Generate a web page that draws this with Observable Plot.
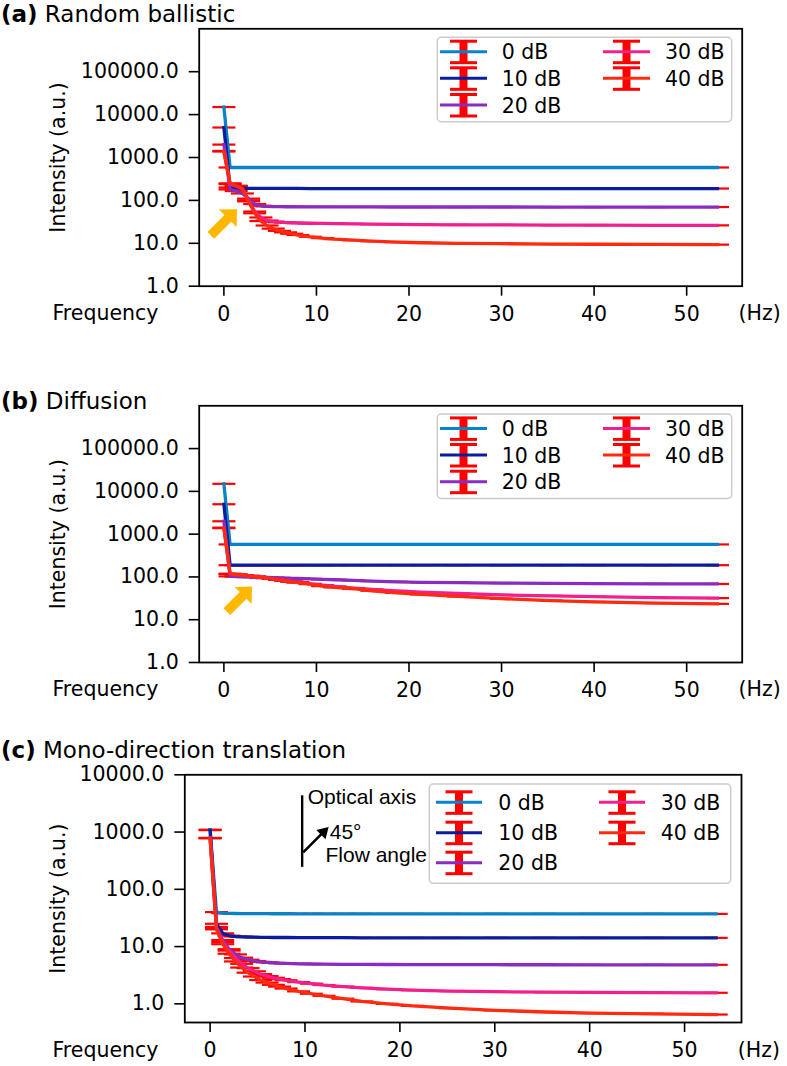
<!DOCTYPE html>
<html><head><meta charset="utf-8">
<script src="https://cdn.jsdelivr.net/npm/d3@7"></script>
<script src="https://cdn.jsdelivr.net/npm/@observablehq/plot@0.6"></script>
<style>
body{margin:0;background:#fff;}
#fig{position:relative;width:787px;height:1066px;overflow:hidden;font-family:"DejaVu Sans",sans-serif;background:#fff;}
.panel{position:absolute;left:0;}
.title{position:absolute;left:1px;font-size:23px;line-height:1;white-space:nowrap;color:#000;font-family:"DejaVu Sans",sans-serif;}
.title b{font-weight:bold}
</style></head><body><div id="fig"></div>
<script>
// ---------- data ----------
const frequencies = [0, 0.67, 1.33, 2, 2.67, 3.33, 4, 4.67, 5.33, 6,
  6.67, 7.33, 8, 9.33, 10.67, 12, 14, 16, 18.67, 21.33,
  25.33, 30, 35.33, 40, 46.67, 53.33];
const seriesNames = ["0 dB", "10 dB", "20 dB", "30 dB", "40 dB"];
const seriesColors = ["#0a82c8", "#0a1e9c", "#8a2cbf", "#f2208c", "#ff2a10"];
const capColor = "#ff0000";
const xTicks = [0, 10, 20, 30, 40, 50];
const yTicksAB = [1, 10, 100, 1000, 10000, 100000];
const yTicksC = [1, 10, 100, 1000, 10000];
const panelTitles = [["(a)", "Random ballistic"], ["(b)", "Diffusion"], ["(c)", "Mono-direction translation"]];

// (a) Random ballistic
const a0 = [15000, 585, 585, 585, 585, 585, 585, 585, 585, 585,
  585, 585, 585, 585, 585, 585, 585, 585, 585, 585,
  585, 585, 585, 585, 585, 585];
const a10 = [5000, 200, 194, 192, 191, 190, 190, 190, 190, 190,
  190, 190, 190, 189, 189, 189, 189, 189, 189, 189,
  189, 189, 189, 189, 189, 189];
const a20 = [2000, 180, 165, 145, 110, 82, 75, 72.5, 71.8, 71.4,
  71.2, 71, 70.9, 70.7, 70.6, 70.5, 70.4, 70.3, 70.2, 70.2,
  70.1, 70.1, 70, 70, 70, 70];
const a30 = [1420, 240, 215, 185, 100, 55, 40, 34, 32, 31,
  30.5, 30, 29.7, 29.3, 29, 28.7, 28.3, 28, 27.6, 27.3,
  27, 26.8, 26.6, 26.4, 26.3, 26.2];
const a40 = [1380, 250, 220, 190, 95, 50, 33, 26, 22, 19.5,
  18, 16.7, 15.6, 14.2, 13.2, 12.5, 11.8, 11.2, 10.7, 10.3,
  10, 9.8, 9.6, 9.5, 9.4, 9.3];

// (b) Diffusion
const b0 = [15000, 575, 575, 575, 575, 575, 575, 575, 575, 575,
  575, 575, 575, 575, 575, 575, 575, 575, 575, 575,
  575, 575, 575, 575, 575, 575];
const b10 = [5000, 188, 188, 188, 188, 188, 188, 188, 188, 188,
  188, 188, 188, 188, 188, 188, 188, 188, 188, 188,
  188, 188, 188, 188, 188, 188];
const b20 = [2000, 103, 102, 101, 100, 99, 98, 97, 96, 95,
  94, 93, 92, 90, 88, 86, 83, 80, 77, 75,
  73.5, 72, 71, 70, 69, 68.5];
const b30 = [1420, 118, 114, 110, 106, 102, 98, 94, 90, 86,
  82, 78, 75, 69, 64, 60, 55, 51, 47, 44,
  41, 38, 36, 34.5, 33, 32];
const b40 = [1380, 118, 114, 110, 106, 102, 98, 94, 90, 86,
  82, 78, 74, 68, 61, 57, 53, 47.5, 42.5, 39,
  35, 31, 28, 26, 24.5, 23.5];

// (c) Mono-direction translation
const c0 = [1100, 40, 38.5, 38, 37.8, 37.7, 37.6, 37.5, 37.5, 37.5,
  37.4, 37.4, 37.4, 37.3, 37.3, 37.3, 37.3, 37.3, 37.2, 37.2,
  37.2, 37.2, 37.2, 37.2, 37.2, 37.2];
const c10 = [1080, 25, 17, 15.5, 15, 14.8, 14.7, 14.6, 14.5, 14.5,
  14.4, 14.4, 14.4, 14.3, 14.3, 14.3, 14.3, 14.2, 14.2, 14.2,
  14.2, 14.2, 14.2, 14.2, 14.2, 14.2];
const c20 = [790, 22, 13, 9, 7.3, 6.4, 5.9, 5.6, 5.4, 5.3,
  5.2, 5.12, 5.07, 5, 4.96, 4.93, 4.9, 4.88, 4.86, 4.85,
  4.83, 4.82, 4.81, 4.8, 4.8, 4.8];
const c30 = [785, 21, 12, 8.5, 6.3, 5, 4.2, 3.7, 3.3, 3.05,
  2.85, 2.7, 2.58, 2.4, 2.25, 2.13, 2, 1.9, 1.8, 1.73,
  1.67, 1.63, 1.6, 1.58, 1.57, 1.56];
const c40 = [780, 20, 11, 7.5, 5.5, 4.3, 3.5, 3, 2.6, 2.35,
  2.15, 2, 1.85, 1.65, 1.5, 1.38, 1.23, 1.1, 1, 0.92,
  0.84, 0.77, 0.72, 0.69, 0.67, 0.65];

// annotations (data units)
const orangeArrowA = [{f: -1.41, v: 15.3}];
const orangeArrowB = [{f: 0.32, v: 15.4}];
const flowAxisLine = [{f: 9.7, v1: 4300, v2: 242}];
const flowArrow = [{f: 9.81, v: 442}];
const flowLabels = [
  {f: 10.29, v: 4035, t: "Optical axis"},
  {f: 12.61, v: 988, t: "45°"},
  {f: 12.16, v: 387, t: "Flow angle"}
];

// ---------- helpers ----------
function rowsOf(series) {
  const rows = [];
  series.forEach((vals, i) => vals.forEach((v, j) => rows.push({f: frequencies[j], v, s: seriesNames[i]})));
  return rows;
}
const capSymbol = {draw(ctx) { ctx.moveTo(-11.5, 0); ctx.lineTo(11.5, 0); }};
function rotatedPolygonSymbol(pts, deg) {
  const a = deg * Math.PI / 180, c = Math.cos(a), s = Math.sin(a);
  return {draw(ctx) {
    pts.forEach(([x, y], k) => {
      const X = x * c - y * s, Y = x * s + y * c;
      k ? ctx.lineTo(X, Y) : ctx.moveTo(X, Y);
    });
    ctx.closePath();
  }};
}
// arrow pointing along +x (tail at origin), rotated -45deg => up-right
function blockArrow(len, hw, hl, hh) {
  return rotatedPolygonSymbol([[0, -hw], [len - hl, -hw], [len - hl, -hh], [len, 0], [len - hl, hh], [len - hl, hw], [0, hw]], -45);
}

function makePanel(cfg) {
  const rows = rowsOf(cfg.series);
  const fs = 20.5;
  const marks = [
    Plot.dot(rows, {x: "f", y: "v", symbol: capSymbol, stroke: capColor, strokeWidth: 2.2, fill: "none", r: 5}),
    Plot.line(rows, {x: "f", y: "v", z: "s", stroke: "s", strokeWidth: 3.3, strokeLinejoin: "round", strokeLinecap: "square"}),
    Plot.axisX({ticks: xTicks, tickFormat: d => String(d), tickSize: 10, tickPadding: 10, strokeWidth: 1.6, fontSize: fs, label: null}),
    Plot.axisY({ticks: cfg.yticks, tickFormat: ".1f", tickSize: 10, tickPadding: 10.5, strokeWidth: 1.6, fontSize: fs, label: null}),
    Plot.frame({stroke: "black", strokeWidth: 1.8}),
    Plot.text(["Frequency"], {frameAnchor: "bottom-left", text: d => d, textAnchor: "start", lineAnchor: "middle", dx: 52 - cfg.ml, dy: cfg.xlabDy, fontSize: fs, fill: "black"}),
    Plot.text(["(Hz)"], {frameAnchor: "bottom-right", text: d => d, textAnchor: "start", lineAnchor: "middle", dx: -3.7, dy: cfg.xlabDy, fontSize: fs, fill: "black"}),
    Plot.text(["Intensity (a.u.)"], {frameAnchor: "left", text: d => d, rotate: -90, textAnchor: "middle", lineAnchor: "middle", dx: cfg.ylabX - cfg.ml, fontSize: fs, fill: "black"}),
    ...cfg.extra
  ];
  return Plot.plot({
    width: 787, height: cfg.height,
    marginLeft: cfg.ml, marginRight: cfg.mr, marginTop: cfg.mt, marginBottom: cfg.mb,
    style: {fontFamily: "DejaVu Sans", fontSize: fs + "px", background: "transparent", overflow: "visible", color: "black"},
    x: {domain: [-2.667, 56]},
    y: {type: "log", domain: cfg.ydomain},
    color: {domain: seriesNames, range: seriesColors},
    marks
  });
}

const fig = document.getElementById("fig");
const panels = [
  {top: 0, height: 345, ml: 198.7, mr: 45.3, mt: 28.3, mb: 345 - 285.7, ydomain: [1, 1e6], yticks: yTicksAB,
   series: [a0, a10, a20, a30, a40], xlabDy: 26.8, ylabX: 58, titleTop: 3.2,
   extra: [Plot.dot(orangeArrowA, {x: "f", y: "v", symbol: blockArrow(37, 4.8, 13, 12.5), fill: "#ffb800", stroke: "none", r: 5})]},
  {top: 376.7, height: 345, ml: 198.7, mr: 45.3, mt: 28.3, mb: 345 - 285.0, ydomain: [1, 1e6], yticks: yTicksAB,
   series: [b0, b10, b20, b30, b40], xlabDy: 26.8, ylabX: 58, titleTop: 389.8 - 376.7,
   extra: [Plot.dot(orangeArrowB, {x: "f", y: "v", symbol: blockArrow(35.5, 4.8, 12.5, 12), fill: "#ffb800", stroke: "none", r: 5})]},
  {top: 736, height: 330, ml: 184.3, mr: 46, mt: 38.3, mb: 330 - 286, ydomain: [0.472, 10000], yticks: yTicksC,
   series: [c0, c10, c20, c30, c40], xlabDy: 27.5, ylabX: 57.5, titleTop: 739.2 - 736,
   extra: [
     Plot.ruleX(flowAxisLine, {x: "f", y1: "v1", y2: "v2", stroke: "black", strokeWidth: 2.4}),
     Plot.dot(flowArrow, {x: "f", y: "v", symbol: blockArrow(36, 1.3, 11, 6.5), fill: "black", stroke: "none", r: 5}),
     Plot.text(flowLabels, {x: "f", y: "v", text: "t", textAnchor: "start", lineAnchor: "middle", fontFamily: "Liberation Sans", fontSize: 21, fill: "black"})
   ]}
];

panels.forEach((p, i) => {
  const wrap = document.createElement("div");
  wrap.className = "panel";
  wrap.style.top = p.top + "px";
  wrap.appendChild(makePanel(p));
  fig.appendChild(wrap);
  const t = document.createElement("div");
  t.className = "title";
  t.style.top = (p.top + p.titleTop) + "px";
  t.innerHTML = `<b>${panelTitles[i][0]}</b> ${panelTitles[i][1]}`;
  fig.appendChild(t);
});

// ---------- legends ----------
const legendBoxes = [
  {x: 437.3, y: 37.3, w: 294.4, h: 84.4, rows: [51.7, 78.3, 105], c1: [440, 487, 501.7], c2: [603, 650, 665]},
  {x: 437.3, y: 414, w: 294.4, h: 84.4, rows: [428.4, 455, 481.7], c1: [440, 487, 501.7], c2: [603, 650, 665]},
  {x: 429.3, y: 784, w: 301.4, h: 99.3, rows: [802.3, 832.7, 862.7], c1: [436, 482, 498.3], c2: [599, 645, 660.7]}
];
const ov = d3.select(fig).append("svg").attr("width", 787).attr("height", 1066)
  .style("position", "absolute").style("left", 0).style("top", 0).style("pointer-events", "none");
legendBoxes.forEach(L => {
  ov.append("rect").attr("x", L.x).attr("y", L.y).attr("width", L.w).attr("height", L.h).attr("rx", 4)
    .attr("fill", "white").attr("fill-opacity", 0.8).attr("stroke", "#cccccc").attr("stroke-width", 1.5);
  seriesNames.forEach((name, i) => {
    const col = i < 3 ? L.c1 : L.c2;
    const cy = L.rows[i < 3 ? i : i - 3];
    const cx = (col[0] + col[1]) / 2;
    const g = ov.append("g");
    g.append("rect").attr("x", cx - 4).attr("y", cy - 10.5).attr("width", 8).attr("height", 21.5).attr("fill", capColor);
    g.append("rect").attr("x", cx - 13.5).attr("y", cy - 12).attr("width", 27).attr("height", 3).attr("fill", capColor);
    g.append("rect").attr("x", cx - 13.5).attr("y", cy + 9.5).attr("width", 27).attr("height", 3).attr("fill", capColor);
    g.append("line").attr("x1", col[0]).attr("x2", col[1]).attr("y1", cy).attr("y2", cy)
      .attr("stroke", seriesColors[i]).attr("stroke-width", 3);
    g.append("text").attr("x", col[2]).attr("y", cy + 7.5).attr("font-family", "DejaVu Sans").attr("font-size", 20.5)
      .attr("fill", "black").text(name);
  });
});
</script></body></html>
